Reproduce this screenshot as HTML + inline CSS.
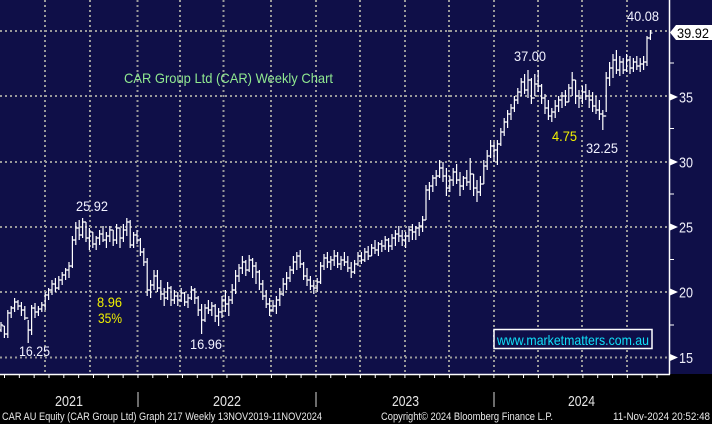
<!DOCTYPE html>
<html><head><meta charset="utf-8"><style>
html,body{margin:0;padding:0;background:#000;}
svg{display:block;}
text{font-family:"Liberation Sans",sans-serif;}
</style></head><body>
<svg width="712" height="424" viewBox="0 0 712 424" xmlns="http://www.w3.org/2000/svg">
<rect x="0" y="0" width="712" height="424" fill="#000"/>
<rect x="0" y="0" width="712" height="374" fill="#0f0f48"/>
<g stroke="#9a9a9a" stroke-width="2" stroke-dasharray="2 3" fill="none">
<path d="M0 31H669M0 96H669M0 162H669M0 227H669M0 292H669M0 357.5H669"/>
<path d="M45 0V374M90 0V374M137.5 0V374M180 0V374M223.5 0V374M271 0V374M316 0V374M360 0V374M405 0V374M449 0V374M494 0V374M538 0V374M582 0V374M627 0V374"/>
</g>
<path fill="none" stroke="#fff" stroke-width="1.2" d="M1 322v10m0-7h2m1.4 1v12m0-4h2m1.4-24v28m0-25h2m1.4-7v12m0-10h2m1.4-10v14m0-10h2m1.4-2v10m0-4h2m1.4-4v14m0-6h2m1.4-4v14m0-2h2m1.4 2v23m0-13h2m1.4-25v30m0-27h2m1.4-5v15m0-6h2m1.4-6v10m0-7h2m1.4-7v10m0-7h2m1.4-13v18m0-15h2m1.4-7v12m0-10h2m1.4-10v15m0-11h2m1.4-6v14m0-4h2m1.4-12v14m0-10h2m1.4-8v13m0-10h2m1.4-7v12m0-10h2m1.4-8v16m0-12h2m1.4-30v32m0-28h2m1.4-18v23m0-17h2m1.4-8v20m0-5h2m1.4-17v20m0-16h2m1.4 0v20m0-4h2m1.4-10v22m0-18h2m1.4 0v16m0-4h2m1.4-8v14m0-12h2m1.4-8v15m0-11h2m1.4-8v16m0-2h2m1.4-8v16m0-12h2m1.4-10v16m0-12h2m1.4 0v16m0-6h2m1.4-16v20m0-16h2m1.4 0v20m0-10h2m1.4-14v18m0-12h2m1.4-12v18m0-14h2m1.4-2v28m0-3h2m1.4-13v16m0-13h2m1.4-5v14m0-4h2m1.4-2v18m0-4h2m1.4-4v18m0-4h2m1.4-4v38m0-6h2m1.4-10v18m0-13h2m1.4-15v20m0-14h2m1.4-6v22m0-4h2m1.4-8v20m0-6h2m1.4-6v18m0-8h2m1.4-16v18m0-12h2m1.4-2v20m0-6h2m1.4-10v14m0-8h2m1.4-4v14m0-6h2m1.4-12v14m0-9h2m1.4-1v14m0-4h2m1.4-8v14m0-10h2m1.4-12v14m0-10h2m1.4-2v16m0-6h2m1.4-2v20m0-6h2m1.4-6v30m0-14h2m1.4-16v18m0-14h2m1.4-8v14m0-4h2m1.4-8v14m0-10h2m1.4-2v18m0-6h2m1.4-8v18m0-14h2m1.4-16v22m0-18h2m1.4-10v22m0-8h2m1.4-8v20m0-16h2m1.4-16v20m0-14h2m1.4-20v24m0-18h2m1.4-12v18m0-14h2m1.4-12v18m0-12h2m1.4-2v16m0-6h2m1.4-15v17m0-12h2m1.4-2v20m0-12h2m1.4-4v22m0-12h2m1.4-2v20m0-6h2m1.4-4v20m0-4h2m1.4-6v18m0-4h2m1.4-6v18m0-6h2m1.4-10v12m0-6h2m1.4-10v18m0-14h2m1.4-12v18m0-12h2m1.4-16v18m0-12h2m1.4-12v18m0-12h2m1.4-12v16m0-12h2m1.4-14v18m0-12h2m1.4-10v18m0-14h2m1.4-6v18m0-4h2m1.4-2v18m0-4h2m1.4-8v18m0-6h2m1.4-4v14m0-4h2m1.4-6v14m0-6h2m1.4-10v14m0-10h2m1.4-20v22m0-18h2m1.4-12v16m0-12h2m1.4-6v16m0-6h2m1.4-6v14m0-10h2m1.4-10v16m0-10h2m1.4-4v16m0-4h2m1.4-8v14m0-10h2m1.4-8v14m0-4h2m1.4-6v16m0-4h2m1.4-6v16m0-6h2m1.4-12v14m0-10h2m1.4-12v14m0-10h2m1.4-4v12m0-4h2m1.4-12v14m0-10h2m1.4-6v14m0-4h2m1.4-12v12m0-8h2m1.4-8v14m0-4h2m1.4-8v14m0-12h2m1.4-4v12m0-6h2m1.4-10v14m0-10h2m1.4-2v14m0-6h2m1.4-12v16m0-12h2m1.4-8v16m0-12h2m1.4-8v16m0-6h2m1.4-6v16m0-6h2m1.4-8v16m0-12h2m1.4-10v16m0-12h2m1.4-6v16m0-8h2m1.4-6v14m0-12h2m1.4-6v14m0-10h2m1.4-10v16m0-12h2m1.4-35v35m0-30h2m1.4-8v18m0-14h2m1.4-11v17m0-14h2m1.4-8v16m0-10h2m1.4-16v18m0-10h2m1.4-6v20m0-6h2m1.4-8v28m0-8h2m1.4-12v16m0-12h2m1.4-12v18m0-14h2m1.4-8v20m0-4h2m1.4-8v24m0-10h2m1.4-10v14m0-12h2m1.4-8v16m0-4h2m1.4-24v32m0-16h2m1.4 0v22m0-8h2m1.4-8v22m0-10h2m1.4-16v20m0-12h2m1.4-24v24m0-18h2m1.4-16v20m0-14h2m1.4-16v18m0-12h2m1.4-4v20m0-12h2m1.4-10v25m0-21h2m1.4-16v18m0-14h2m1.4-14v18m0-14h2m1.4-12v18m0-14h2m1.4-10v16m0-12h2m1.4-12v16m0-12h2m1.4-12v16m0-12h2m1.4-14v18m0-14h2m1.4-8v20m0-4h2m1.4-20v28m0-18h2m1.4-2v26m0-6h2m1.4-24v22m0-12h2m1.4-14v22m0-6h2m1.4-2v20m0-6h2m1.4-4v20m0-6h2m1.4-8v20m0-4h2m1.4-8v14m0-10h2m1.4-12v18m0-12h2m1.4-10v16m0-12h2m1.4-8v16m0-12h2m1.4-6v16m0-4h2m1.4-18v18m0-14h2m1.4-16v24m0-16h2m1.4 0v24m0-8h2m1.4-6v18m0-10h2m1.4-12v18m0-12h2m1.4-8v16m0-4h2m1.4-6v18m0-8h2m1.4-8v20m0-6h2m1.4-10v18m0-4h2m1.4-10v20m0-6h2m1.4-4v20m0-14h2m1.4-44v40m0-34h2m1.4-16v24m0-18h2m1.4-14v24m0-18h2m1.4-10v24m0-4h2m1.4-14v20m0-14h2m1.4-4v16m0-4h2m1.4-16v18m0-12h2m1.4-4v18m0-6h2m1.4-10v14m0-10h2m1.4-6v14m0-4h2m1.4-8v14m0-8h2m1.4-8v14m0-8h2m1.4-26v30m0-28h2m1.4-8v10m0-7h2"/>
<path fill="none" stroke="#fff" stroke-width="1.2" d="M-1 330h2m1.4-4h2m1.4 8h2m1.4-21h2m1.4-5h2m1.4-6h2m1.4 4h2m1.4 4h2m1.4 8h2m1.4 12h2m1.4-22h2m1.4 4h2m1.4-3h2m1.4-4h2m1.4-10h2m1.4-5h2m1.4-6h2m1.4 4h2m1.4-8h2m1.4-5h2m1.4-5h2m1.4-4h2m1.4-26h2m1.4-12h2m1.4 7h2m1.4-13h2m1.4 16h2m1.4-6h2m1.4 12h2m1.4-6h2m1.4-4h2m1.4 6h2m1.4-4h2m1.4-6h2m1.4 10h2m1.4-12h2m1.4 10h2m1.4-8h2m1.4-8h2m1.4 23h2m1.4-10h2m1.4 5h2m1.4 12h2m1.4 10h2m1.4 28h2m1.4-5h2m1.4-9h2m1.4 12h2m1.4 6h2m1.4 4h2m1.4-10h2m1.4 12h2m1.4-4h2m1.4 4h2m1.4-7h2m1.4 9h2m1.4-4h2m1.4-8h2m1.4 8h2m1.4 12h2m1.4 10h2m1.4-12h2m1.4 2h2m1.4-4h2m1.4 10h2m1.4-4h2m1.4-12h2m1.4 4h2m1.4-4h2m1.4-10h2m1.4-14h2m1.4-8h2m1.4-6h2m1.4 8h2m1.4-10h2m1.4 6h2m1.4 6h2m1.4 12h2m1.4 12h2m1.4 8h2m1.4 6h2m1.4-4h2m1.4-6h2m1.4-6h2m1.4-10h2m1.4-6h2m1.4-8h2m1.4-8h2m1.4-6h2m1.4 8h2m1.4 12h2m1.4 4h2m1.4 6h2m1.4 2h2m1.4-6h2m1.4-16h2m1.4-8h2m1.4 4h2m1.4-2h2m1.4-4h2m1.4 8h2m1.4-4h2m1.4 2h2m1.4 6h2m1.4 4h2m1.4-8h2m1.4-8h2m1.4 4h2m1.4-8h2m1.4 4h2m1.4-8h2m1.4 2h2m1.4-6h2m1.4 2h2m1.4-6h2m1.4 6h2m1.4-8h2m1.4-4h2m1.4 2h2m1.4 4h2m1.4-4h2m1.4-6h2m1.4 2h2m1.4-4h2m1.4-2h2m1.4-6h2m1.4-30h2m1.4-4h2m1.4-8h2m1.4-2h2m1.4-8h2m1.4 8h2m1.4 12h2m1.4-8h2m1.4-8h2m1.4 8h2m1.4 6h2m1.4-8h2m1.4 4h2m1.4-8h2m1.4 14h2m1.4 4h2m1.4-8h2m1.4-18h2m1.4-10h2m1.4-10h2m1.4 4h2m1.4-6h2m1.4-12h2m1.4-10h2m1.4-8h2m1.4-6h2m1.4-8h2m1.4-8h2m1.4-10h2m1.4 8h2m1.4-10h2m1.4 18h2m1.4-14h2m1.4 2h2m1.4 12h2m1.4 10h2m1.4 8h2m1.4-4h2m1.4-6h2m1.4-6h2m1.4-4h2m1.4 6h2m1.4-14h2m1.4-8h2m1.4 16h2m1.4 2h2m1.4-6h2m1.4 4h2m1.4 4h2m1.4 6h2m1.4 4h2m1.4 4h2m1.4 2h2m1.4-38h2m1.4-10h2m1.4-8h2m1.4 10h2m1.4-8h2m1.4 8h2m1.4-10h2m1.4 8h2m1.4-6h2m1.4 4h2m1.4-2h2m1.4-2h2m1.4-24h2"/>
<path stroke="#fff" stroke-width="1.5" fill="none" d="M669.5 0V374.5M0 374.5H670"/>
<path stroke="#fff" stroke-width="4" stroke-dasharray="1 13.83" fill="none" d="M4 376H670"/>
<path stroke="#fff" stroke-width="5" stroke-dasharray="1 64.5" fill="none" d="M671.5 62.5V330"/>
<g fill="#fff">
<polygon points="670,93.5 670,100.5 678,97"/>
<polygon points="670,158.5 670,165.5 678,162"/>
<polygon points="670,223.5 670,230.5 678,227"/>
<polygon points="670,288.5 670,295.5 678,292"/>
<polygon points="670,354 670,361 678,357.5"/>
</g>
<g fill="#eeeef8" font-size="15">
<text x="679" y="102.5" textLength="14" lengthAdjust="spacingAndGlyphs">35</text>
<text x="679" y="167.5" textLength="14" lengthAdjust="spacingAndGlyphs">30</text>
<text x="679" y="232.5" textLength="14" lengthAdjust="spacingAndGlyphs">25</text>
<text x="679" y="297.5" textLength="14" lengthAdjust="spacingAndGlyphs">20</text>
<text x="679" y="363" textLength="14" lengthAdjust="spacingAndGlyphs">15</text>
</g>
<polygon points="670,32.5 676,25 712,25 712,40 676,40" fill="#fff"/>
<text x="677" y="38" font-size="14" fill="#000" textLength="32" lengthAdjust="spacingAndGlyphs">39.92</text>
<g fill="#f2f2ff" font-size="14">
<text x="627" y="21" textLength="32" lengthAdjust="spacingAndGlyphs">40.08</text>
<text x="514" y="61" textLength="32" lengthAdjust="spacingAndGlyphs">37.00</text>
<text x="586" y="153" textLength="32" lengthAdjust="spacingAndGlyphs">32.25</text>
<text x="76" y="211" textLength="32" lengthAdjust="spacingAndGlyphs">25.92</text>
<text x="19" y="356" textLength="31" lengthAdjust="spacingAndGlyphs">16.25</text>
<text x="190" y="349" textLength="32" lengthAdjust="spacingAndGlyphs">16.96</text>
</g>
<g fill="#f0f000" font-size="14">
<text x="552" y="141" textLength="25" lengthAdjust="spacingAndGlyphs">4.75</text>
<text x="97" y="307" textLength="25" lengthAdjust="spacingAndGlyphs">8.96</text>
<text x="98" y="323" textLength="24" lengthAdjust="spacingAndGlyphs">35%</text>
</g>
<text x="124" y="83" font-size="14" fill="#90e890" textLength="209" lengthAdjust="spacingAndGlyphs">CAR Group Ltd (CAR) Weekly Chart</text>
<rect x="494" y="329.5" width="158" height="19" fill="#0f0f48" stroke="#fff" stroke-width="1.5"/>
<text x="497" y="345" font-size="14" fill="#10e0f8" textLength="152" lengthAdjust="spacingAndGlyphs">www.marketmatters.com.au</text>
<path stroke="#909090" stroke-width="1.5" d="M138 392V407M316 392V407M494 392V407"/>
<g fill="#e6e6e6" font-size="15">
<text x="55" y="406" textLength="28" lengthAdjust="spacingAndGlyphs">2021</text>
<text x="213" y="406" textLength="28" lengthAdjust="spacingAndGlyphs">2022</text>
<text x="392" y="406" textLength="27" lengthAdjust="spacingAndGlyphs">2023</text>
<text x="568" y="406" textLength="27" lengthAdjust="spacingAndGlyphs">2024</text>
</g>
<g fill="#e8e8e8" font-size="11">
<text x="2" y="420" textLength="320" lengthAdjust="spacingAndGlyphs">CAR AU Equity (CAR Group Ltd) Graph 217  Weekly 13NOV2019-11NOV2024</text>
<text x="381" y="420" textLength="172" lengthAdjust="spacingAndGlyphs">Copyright© 2024 Bloomberg Finance L.P.</text>
<text x="613" y="420" textLength="97" lengthAdjust="spacingAndGlyphs">11-Nov-2024 20:52:48</text>
</g>
</svg>
</body></html>
